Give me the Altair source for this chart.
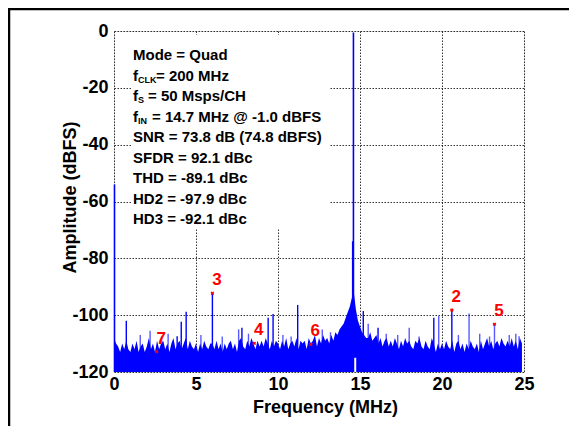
import altair as alt
import pandas as pd

FONT = "Liberation Sans"
BLUE = "#0000ff"

# ---------------- data ----------------
# noise floor top (dBFS), every 0.125 MHz from 0 to 24.875 MHz
noise_top = [
    -108, -110, -111, -113, -110, -112, -109, -112,
    -113, -110, -112, -109, -113, -111, -110, -113,
    -111, -108, -112, -110, -113, -109, -112, -110,
    -109, -112, -110, -113, -110, -108, -112, -110,
    -109, -112, -110, -108, -112, -109, -111, -112,
    -110, -113, -110, -112, -109, -111, -112, -110,
    -110, -112, -109, -112, -110, -113, -110, -112,
    -110, -109, -112, -110, -113, -109, -108, -111,
    -112, -109, -111, -108, -110, -112, -109, -111,
    -109, -111, -108, -110, -112, -109, -111, -109,
    -110, -112, -109, -111, -108, -112, -110, -109,
    -111, -108, -112, -109, -110, -109, -112, -108,
    -110, -109, -107, -111, -108, -110, -107, -109,
    -108, -110, -107, -109, -106, -107, -105, -104,
    -103, -101, -99, -97, -94, -92, -98, -102,
    -104, -106, -107, -108, -108, -106, -109, -108,
    -107, -110, -108, -111, -109, -108, -111, -109,
    -111, -108, -110, -112, -109, -111, -108, -110,
    -109, -111, -112, -109, -110, -108, -111, -112,
    -109, -111, -112, -108, -110, -113, -110, -112,
    -110, -112, -109, -111, -112, -109, -113, -110,
    -109, -112, -110, -113, -110, -112, -109, -111,
    -112, -110, -113, -109, -112, -110, -108, -111,
    -109, -112, -110, -109, -111, -108, -110, -111,
    -109, -111, -108, -111, -109, -112, -108, -110,
]
bin_step = 0.125
floor_db = -120

# spurs above the noise floor
spur_freq = [0.75, 2.2, 3.85, 4.1, 4.4, 6.0, 7.6, 7.8, 9.4, 9.7, 11.2, 12.7,
             14.55, 15.2, 15.5, 16.1, 18.0, 19.5, 19.8, 20.6, 21.65, 23.2, 24.7,
             1.6, 2.9, 3.3, 5.3, 6.6, 8.2, 10.3, 10.8, 13.2, 16.6, 17.3, 18.6,
             21.0, 22.3, 22.9, 24.1, 24.5]
spur_top = [-102, -105.5, -107.4, -102.3, -98.8, -92.3, -105, -104.4, -100.9, -99.6, -96.4, -105,
            -74, -98.5, -103, -104.4, -104.4, -100.9, -100.3, -98.2, -99.4, -103.2, -107.4,
            -107, -107.5, -106.5, -107, -107.5, -106.5, -107, -107.5, -106, -106.5, -107, -107.5,
            -107, -106.5, -107.5, -107, -106.5]
spur_light = [False, True, False, False, False, False, True, False, False, False, False, True,
              False, False, True, False, True, False, True, False, True, True, True,
              True, True, True, True, True, True, True, True, True, True, True, True,
              True, True, True, True, True]

# fundamental and DC
fund_freq = 14.6
fund_db = -0.5
dc_freq = 0.03
dc_db = -54

# white notch beside the fundamental at the bottom of the floor
notch_lo = [14.63]
notch_hi = [14.77]
notch_top = [-115]

# marked harmonics
harm_label = ["2", "3", "4", "5", "6", "7"]
harm_freq = [20.6, 6.0, 8.55, 23.2, 12.0, 2.6]
harm_db = [-98.2, -92.3, -109.9, -103.2, -110.3, -112.8]

# annotation text
info_main = ["Mode = Quad", "f", "f", "f", "SNR = 73.8 dB (74.8 dBFS)",
             "SFDR = 92.1 dBc", "THD = -89.1 dBc", "HD2 = -97.9 dBc", "HD3 = -92.1 dBc"]
info_sub = ["", "CLK", "S", "IN", "", "", "", "", ""]
info_rest = ["", "= 200 MHz", "= 50 Msps/CH", "= 14.7 MHz @ -1.0 dBFS", "", "", "", "", ""]

x_ticks = [0, 5, 10, 15, 20, 25]
y_ticks = [-120, -100, -80, -60, -40, -20, 0]

# ---------------- tables ----------------
noise_df = pd.DataFrame({
    "f": [i * bin_step for i in range(len(noise_top))],
    "db": noise_top,
    "lo": [floor_db] * len(noise_top),
})
spur_df = pd.DataFrame({
    "f": spur_freq, "db": spur_top, "lo": [floor_db] * len(spur_freq),
    "light": spur_light,
})
big_df = pd.DataFrame({
    "f": [dc_freq, fund_freq], "db": [dc_db, fund_db], "lo": [floor_db, floor_db],
})
notch_df = pd.DataFrame({"f": notch_lo, "f2": notch_hi, "db": notch_top, "lo": [floor_db]})
harm_df = pd.DataFrame({"f": harm_freq, "db": harm_db, "label": harm_label})

W, H = 410, 341

xs = alt.Scale(domain=[0, 25], nice=False, zero=False)
ys = alt.Scale(domain=[-120, 0], nice=False, zero=False)

common = dict(grid=True, ticks=False, tickSize=0, domain=False, labelFlush=False,
              labelFont=FONT, labelFontSize=18, labelFontWeight="bold", labelColor="black",
              titleFont=FONT, titleFontSize=18, titleFontWeight="bold", titleColor="black",
              titleBaseline="alphabetic", labelExpr="'' + datum.value",
              gridColor="#111111", gridDash=[1.5, 1.5], gridOpacity=0.85, gridWidth=1)

x_axis = alt.Axis(values=x_ticks, title="Frequency (MHz)", labelPadding=3,
                  titleX=211, titleY=40, **common)
y_axis = alt.Axis(values=y_ticks, title="Amplitude (dBFS)", labelPadding=6,
                  titleAngle=-90, titleX=-39, titleY=166, **common)

X = alt.X("f:Q", scale=xs, axis=x_axis)
Y = alt.Y("db:Q", scale=ys, axis=y_axis)

noise = alt.Chart(noise_df).mark_area(color=BLUE, interpolate="linear", opacity=1).encode(
    x=X, y=Y, y2="lo:Q")

notch = alt.Chart(notch_df).mark_rect(color="white").encode(x=X, x2="f2:Q", y=Y, y2="lo:Q")

spurs = alt.Chart(spur_df).mark_rule(color=BLUE, strokeWidth=1.4).encode(
    x=X, y=Y, y2="lo:Q",
    opacity=alt.condition("datum.light", alt.value(0.65), alt.value(1)))

big = alt.Chart(big_df).mark_rule(color=BLUE, strokeWidth=1.6).encode(x=X, y=Y, y2="lo:Q")

markers = alt.Chart(harm_df).mark_point(shape="cross", angle=45, size=14, filled=True,
                                        color="red", opacity=1).encode(x=X, y=Y)
labels = alt.Chart(harm_df).mark_text(color="red", font=FONT, fontSize=17, fontWeight="bold",
                                      dx=4.5, dy=-13, baseline="middle", align="center").encode(
    x=X, y=Y, text="label:N")

# white box behind the text block
box = alt.Chart().mark_rect(color="white").encode(
    x=alt.value(17), x2=alt.value(215), y=alt.value(4), y2=alt.value(197))

text_layers = []
base_y = 29
step = 20.5
for i in range(len(info_main)):
    yb = base_y + step * i
    text_layers.append(alt.Chart().mark_text(
        text=info_main[i], font=FONT, fontSize=15, fontWeight="bold", color="black",
        align="left", baseline="alphabetic").encode(x=alt.value(19), y=alt.value(yb)))
    if info_sub[i]:
        text_layers.append(alt.Chart().mark_text(
            text=info_sub[i], font=FONT, fontSize=9, fontWeight="bold", color="black",
            align="left", baseline="alphabetic").encode(x=alt.value(24), y=alt.value(yb + 2)))
        rest_x = {"CLK": 42, "S": 34, "IN": 38}[info_sub[i]]
        text_layers.append(alt.Chart().mark_text(
            text=info_rest[i], font=FONT, fontSize=15, fontWeight="bold", color="black",
            align="left", baseline="alphabetic").encode(x=alt.value(rest_x), y=alt.value(yb)))

# figure frame (left and top edges)
frame_left = alt.Chart().mark_rule(color="black", strokeWidth=2.5).encode(
    x=alt.value(-105), y=alt.value(-22), y2=alt.value(400))
frame_top = alt.Chart().mark_rule(color="black", strokeWidth=2.5).encode(
    y=alt.value(-22), x=alt.value(-106), x2=alt.value(460))

chart = alt.layer(
    noise, notch, spurs, big, markers, labels, box, *text_layers, frame_left, frame_top
).properties(
    width=W, height=H,
    autosize=alt.AutoSizeParams(type="none"),
    padding={"left": 106, "top": 23, "right": 45, "bottom": 54},
).configure_view(stroke="black", strokeWidth=1).configure(background="white")

chart.save("out.html", embed_options={"renderer": "svg", "actions": False})
